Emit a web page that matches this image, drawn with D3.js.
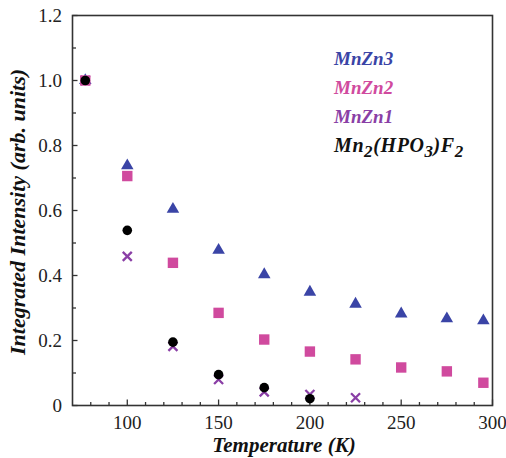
<!DOCTYPE html>
<html><head><meta charset="utf-8">
<script src="https://cdn.jsdelivr.net/npm/d3@7"></script>
<style>body{margin:0;background:#fff} text{font-family:'Liberation Serif';}</style>
</head><body>
<script>
const mnzn3T = [77,100,125,150,175,200,225,250,275,295];
const mnzn3V = [1.0,0.738,0.604,0.478,0.403,0.349,0.312,0.282,0.267,0.261];
const mnzn2T = [77,100,125,150,175,200,225,250,275,295];
const mnzn2V = [1.0,0.706,0.439,0.285,0.203,0.166,0.142,0.117,0.105,0.070];
const mnzn1T = [77,100,125,150,175,200,225];
const mnzn1V = [1.0,0.459,0.182,0.080,0.042,0.034,0.024];
const mnhT = [77,100,125,150,175,200];
const mnhV = [1.0,0.539,0.195,0.095,0.055,0.021];
const xTicks = [100,150,200,250,300];
const yTicks = [0,0.2,0.4,0.6,0.8,1.0,1.2];
const yTickLabels = ["0","0.2","0.4","0.6","0.8","1.0","1.2"];

const W=506,H=458;
const svg=d3.select("body").append("svg").attr("width",W).attr("height",H);
const x=d3.scaleLinear().domain([70,300]).range([72.5,492.5]);
const y=d3.scaleLinear().domain([0,1.2]).range([405.5,15.5]);
const F="'Liberation Serif', serif";

// frame
svg.append("rect").attr("x",72.5).attr("y",15.5).attr("width",420).attr("height",390)
  .attr("fill","none").attr("stroke","#333").attr("stroke-width",1.6);

// x axis ticks (inward)
const xMinor=d3.range(80,301,10);
svg.append("g").selectAll("line").data(xMinor).join("line")
  .attr("x1",d=>x(d)).attr("x2",d=>x(d)).attr("y1",y(0))
  .attr("y2",d=>y(0)-(d%50===0?6:3.5)).attr("stroke","#333").attr("stroke-width",1.3);
svg.append("g").selectAll("text").data(xTicks).join("text")
  .attr("x",d=>x(d)).attr("y",429).attr("text-anchor","middle")
  .style("font-family",F).attr("font-size",19).attr("fill","#222").text(d=>d);

// y axis ticks (inward)
const yMinor=d3.range(0,13).map(i=>i/10);
svg.append("g").selectAll("line").data(yMinor).join("line")
  .attr("x1",x(70)).attr("x2",(d,i)=>x(70)+(i%2===0?5:3.5))
  .attr("y1",d=>y(d)).attr("y2",d=>y(d)).attr("stroke","#333").attr("stroke-width",1.3);
svg.append("g").selectAll("text").data(yTicks).join("text")
  .attr("x",62).attr("y",d=>y(d)+6.5).attr("text-anchor","end")
  .style("font-family",F).attr("font-size",19).attr("fill","#222")
  .text((d,i)=>yTickLabels[i]);

// axis titles
svg.append("text").attr("x",284).attr("y",452).attr("text-anchor","middle")
  .style("font-family",F).attr("font-size",21).attr("font-weight","bold")
  .attr("font-style","italic").attr("fill","#111").text("Temperature (K)");
svg.append("text").attr("transform","translate(25,212) rotate(-90)").attr("text-anchor","middle")
  .style("font-family",F).attr("font-size",22).attr("font-weight","bold")
  .attr("font-style","italic").attr("fill","#111").text("Integrated Intensity (arb. units)");

const blue="#3a44a6", pink="#d04a9e", purple="#8a3fa6";

// MnZn1 crosses
const g1=svg.append("g");
mnzn1T.forEach((t,i)=>{
  const cx=x(t),cy=y(mnzn1V[i]),s=4.5;
  g1.append("path").attr("d",`M${cx-s},${cy-s}L${cx+s},${cy+s}M${cx-s},${cy+s}L${cx+s},${cy-s}`)
    .attr("stroke",purple).attr("stroke-width",2.3);
});
// MnZn3 triangles
svg.append("g").selectAll("path").data(mnzn3T).join("path")
  .attr("transform",(d,i)=>`translate(${x(d)},${y(mnzn3V[i])})`)
  .attr("d",d3.symbol(d3.symbolTriangle,68)).attr("fill",blue);
// MnZn2 squares
svg.append("g").selectAll("rect").data(mnzn2T).join("rect")
  .attr("x",d=>x(d)-5.2).attr("y",(d,i)=>y(mnzn2V[i])-5.2)
  .attr("width",10.4).attr("height",10.4).attr("fill",pink);
// Mn2(HPO3)F2 circles
svg.append("g").selectAll("circle").data(mnhT).join("circle")
  .attr("cx",d=>x(d)).attr("cy",(d,i)=>y(mnhV[i])).attr("r",4.8).attr("fill","#000");

// legend
const leg=[["MnZn3",blue],["MnZn2",pink],["MnZn1",purple]];
leg.forEach((l,i)=>{
  svg.append("text").attr("x",334).attr("y",65+i*29)
    .style("font-family",F).attr("font-size",19).attr("font-weight","bold")
    .attr("font-style","italic").attr("fill",l[1]).text(l[0]);
});
const t4=svg.append("text").attr("x",334).attr("y",152)
  .style("font-family",F).attr("font-size",20).attr("font-weight","bold")
  .attr("font-style","italic").attr("fill","#111").attr("letter-spacing",0.6);
t4.append("tspan").text("Mn");
t4.append("tspan").attr("dy",5).attr("font-size",17).text("2");
t4.append("tspan").attr("dy",-5).text("(HPO");
t4.append("tspan").attr("dy",5).attr("font-size",17).text("3");
t4.append("tspan").attr("dy",-5).text(")F");
t4.append("tspan").attr("dy",5).attr("font-size",17).text("2");
</script>
</body></html>
